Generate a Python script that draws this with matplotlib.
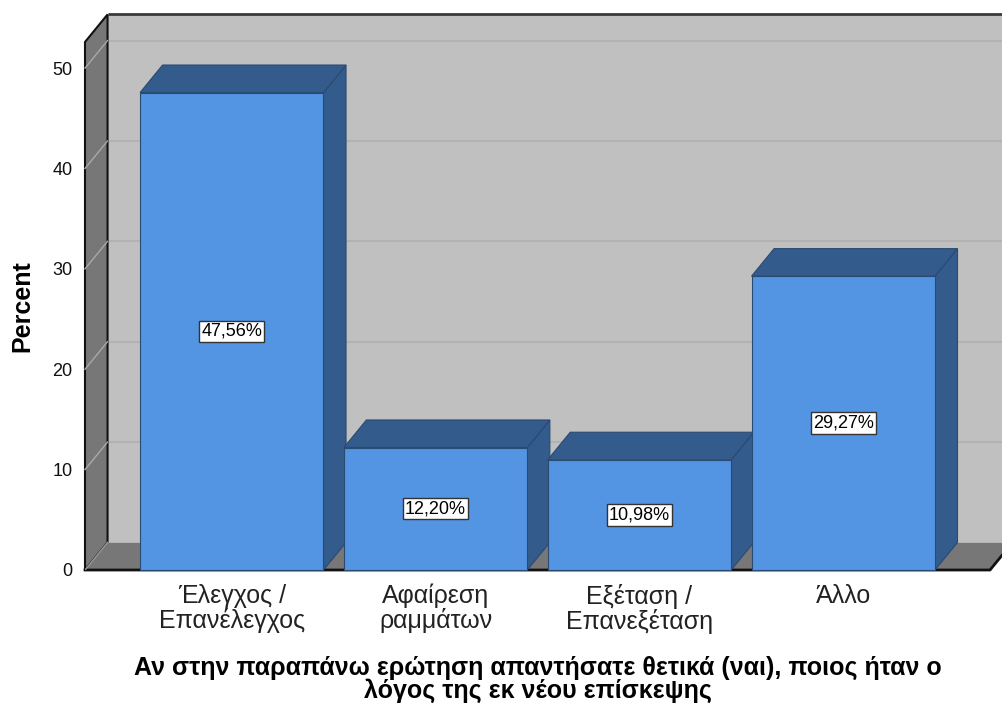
import matplotlib
matplotlib.use("Agg")
import matplotlib.pyplot as plt
from matplotlib.patches import Polygon, Rectangle

plt.rcParams["font.family"] = ["Liberation Sans", "DejaVu Sans"]

# Data
categories = ["Έλεγχος /\nΕπανέλεγχος", "Αφαίρεση\nραμμάτων", "Εξέταση /\nΕπανεξέταση", "Άλλο"]
percent = [47.56, 12.20, 10.98, 29.27]
y_ticks = [0, 10, 20, 30, 40, 50]
x_title = "Αν στην παραπάνω ερώτηση απαντήσατε θετικά (ναι), ποιος ήταν ο\nλόγος της εκ νέου επίσκεψης"

# Look of the pseudo-3D frame
FRONT = "#5394e3"
SHADE = "#335b8c"
BAR_EDGE = "#2a4a72"
WALL = "#c0c0c0"
SIDE = "#777777"
XMIN, XMAX = -0.72, 3.72
YMAX = 52.6
DX, DY = 0.1106, 2.745   # depth offset in data units
WIDTH = 0.9

fig = plt.figure(figsize=(10.03, 7.07), dpi=100)
ax = fig.add_axes([85 / 1003, (707 - 570) / 707, 905 / 1003, 528 / 707])
ax.set_xlim(XMIN, XMAX)
ax.set_ylim(0, YMAX)
for s in ax.spines.values():
    s.set_visible(False)
ax.patch.set_visible(False)

def poly(pts, fc, ec, lw=1.0, z=1):
    ax.add_patch(Polygon(pts, closed=True, facecolor=fc, edgecolor=ec,
                         linewidth=lw, zorder=z, clip_on=False, joinstyle="miter"))

# back wall
poly([(XMIN + DX, DY), (XMAX + DX + 0.3, DY), (XMAX + DX + 0.3, YMAX + DY),
      (XMIN + DX, YMAX + DY)], WALL, "none", z=0.5)
ax.plot([XMIN + DX, XMAX + DX + 0.3], [YMAX + DY, YMAX + DY], color="#3a3a3a",
        lw=2, zorder=0.7, clip_on=False, solid_capstyle="butt")

# grid lines on the back wall and the left wall
for v in y_ticks[1:]:
    ax.plot([XMIN + DX, XMAX + DX + 0.3], [v + DY, v + DY], color="#b2b2b2",
            lw=1.5, zorder=0.6, clip_on=False)

# left wall
poly([(XMIN, 0), (XMIN + DX, DY), (XMIN + DX, YMAX + DY), (XMIN, YMAX)],
     SIDE, "#111111", lw=1.5, z=1)
for v in y_ticks[1:]:
    ax.plot([XMIN, XMIN + DX], [v, v + DY], color="#a9a9a9", lw=1,
            zorder=1.1, clip_on=False)

# floor
poly([(XMIN, 0), (XMAX, 0), (XMAX + DX, DY), (XMIN + DX, DY)],
     SIDE, "none", z=1)
ax.plot([XMIN, XMAX, XMAX + DX], [0, 0, DY], color="#111111", lw=2,
        zorder=1.2, clip_on=False)
ax.plot([XMIN, XMIN + DX], [0, DY], color="#999999", lw=1, zorder=1.2)

# bars
for i, v in enumerate(percent):
    x0, x1 = i - WIDTH / 2, i + WIDTH / 2
    z = 2 + i
    poly([(x1, 0), (x1 + DX, DY), (x1 + DX, v + DY), (x1, v)], SHADE, BAR_EDGE, 0.8, z)
    poly([(x0, v), (x1, v), (x1 + DX, v + DY), (x0 + DX, v + DY)], SHADE, BAR_EDGE, 0.8, z)
    ax.add_patch(Rectangle((x0, 0), WIDTH, v, facecolor=FRONT, edgecolor=BAR_EDGE,
                           linewidth=0.8, zorder=z + 0.1, clip_on=False))
    ax.text(i, v / 2, f"{v:.2f}".replace(".", ",") + "%", ha="center", va="center",
            fontsize=13, zorder=10,
            bbox=dict(boxstyle="square,pad=0.12", facecolor="white",
                      edgecolor="#333333", linewidth=1))

ax.set_yticks(y_ticks)
ax.set_yticklabels([str(t) for t in y_ticks], fontsize=13, color="#111111")
ax.set_xticks(range(len(categories)))
ax.set_xticklabels(categories, fontsize=18, color="#222222", linespacing=1.0)
ax.tick_params(axis="y", length=0, pad=9)
ax.tick_params(axis="x", length=0, pad=10)

ax.set_ylabel("Percent", fontsize=18, fontweight="bold")
ax.yaxis.set_label_coords(-0.0564, 0.5)
ax.set_xlabel(x_title, fontsize=18, fontweight="bold", linespacing=0.92)
ax.xaxis.set_label_coords(0.5, -0.163)

fig.savefig("out.png", dpi=100)
